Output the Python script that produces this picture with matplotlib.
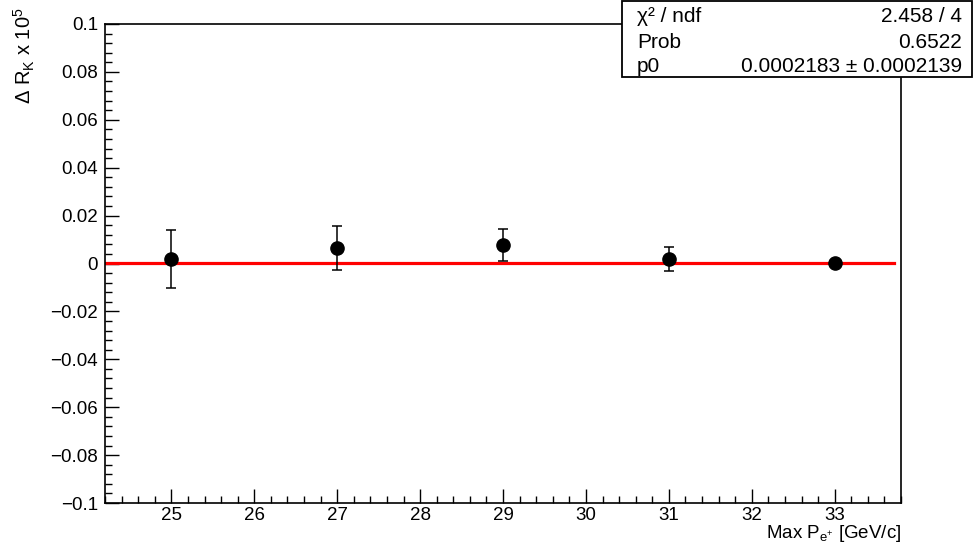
import matplotlib
matplotlib.use("Agg")
import matplotlib.pyplot as plt
from matplotlib.ticker import MultipleLocator, FixedLocator
from matplotlib.patches import Rectangle

plt.rcParams['font.family'] = ['Liberation Sans', 'DejaVu Sans']
plt.rcParams['mathtext.fontset'] = 'custom'
plt.rcParams['mathtext.rm'] = 'Liberation Sans'
plt.rcParams['mathtext.it'] = 'Liberation Sans:italic'

# Measured shift of R_K versus the maximum positron momentum cut
max_p = [25, 27, 29, 31, 33]
delta_rk = [0.0017, 0.0064, 0.0079, 0.0018, 0.0002]
delta_rk_err = [0.0121, 0.0091, 0.0067, 0.0051, 0.0002]

# Constant fit result
fit_p0 = 0.0002183
fit_p0_err = 0.0002139
fit_chi2 = 2.458
fit_ndf = 4
fit_prob = 0.6522

x_range = (24.2, 33.8)
fit_range = (24.2, 33.72)
y_range = (-0.1, 0.1)
y_ticks = [-0.1, -0.08, -0.06, -0.04, -0.02, 0, 0.02, 0.04, 0.06, 0.08, 0.1]
y_tick_labels = ['\u22120.1', '\u22120.08', '\u22120.06', '\u22120.04', '\u22120.02',
                 '0', '0.02', '0.04', '0.06', '0.08', '0.1']

fig = plt.figure(figsize=(9.74, 5.48), dpi=100)
ax = fig.add_axes([105 / 974, 1 - 503 / 548, (901 - 105) / 974, (503 - 24) / 548])

ax.plot(fit_range, [fit_p0, fit_p0], color='#ff0000', lw=2.3, zorder=2)
ax.errorbar(max_p, delta_rk, yerr=delta_rk_err, fmt='o', color='black',
            ms=9.5, elinewidth=1.1, capsize=3.5, capthick=1.1, zorder=3)

ax.set_xlim(*x_range)
ax.set_ylim(*y_range)
ax.xaxis.set_major_locator(MultipleLocator(1))
ax.xaxis.set_minor_locator(MultipleLocator(0.2))
ax.yaxis.set_major_locator(FixedLocator(y_ticks))
ax.set_yticklabels(y_tick_labels)
ax.yaxis.set_minor_locator(MultipleLocator(0.004))
ax.tick_params(which='both', direction='in', top=False, right=False,
               width=1.0, labelsize=13.5)
ax.tick_params(which='major', length=10)
ax.tick_params(which='minor', length=5)
ax.tick_params(axis='y', pad=5)
ax.tick_params(axis='x', pad=3)
for s in ax.spines.values():
    s.set_linewidth(1.2)

fig.text(24 / 974, 1 - 7 / 548, 'Δ R$_{\\mathrm{K}}$ x 10$^{5}$', rotation=90,
         ha='center', va='top', fontsize=14.5)
fig.text(901 / 974, 1 - 534 / 548, 'Max P$_{\\mathrm{e^{+}}}$ [GeV/c]',
         ha='right', va='center', fontsize=13.5)

# Fit statistics box
box = Rectangle((622 / 974, 1 - 77 / 548), (972 - 622) / 974, 76 / 548,
                transform=fig.transFigure, facecolor='white', edgecolor='black',
                lw=1.3, zorder=5)
fig.add_artist(box)
rows = [('χ² / ndf', f'{fit_chi2:.3f} / {fit_ndf}'),
        ('Prob', f'{fit_prob:.4f}'),
        ('p0', f'{fit_p0:.7f} ± {fit_p0_err:.7f}')]
row_y = [17, 42, 66]
for (name, val), yy in zip(rows, row_y):
    fig.text(637 / 974, 1 - yy / 548, name, ha='left', va='center',
             fontsize=15, zorder=6)
    fig.text(962 / 974, 1 - yy / 548, val, ha='right', va='center',
             fontsize=15, zorder=6)

fig.savefig('out.png', dpi=100)
